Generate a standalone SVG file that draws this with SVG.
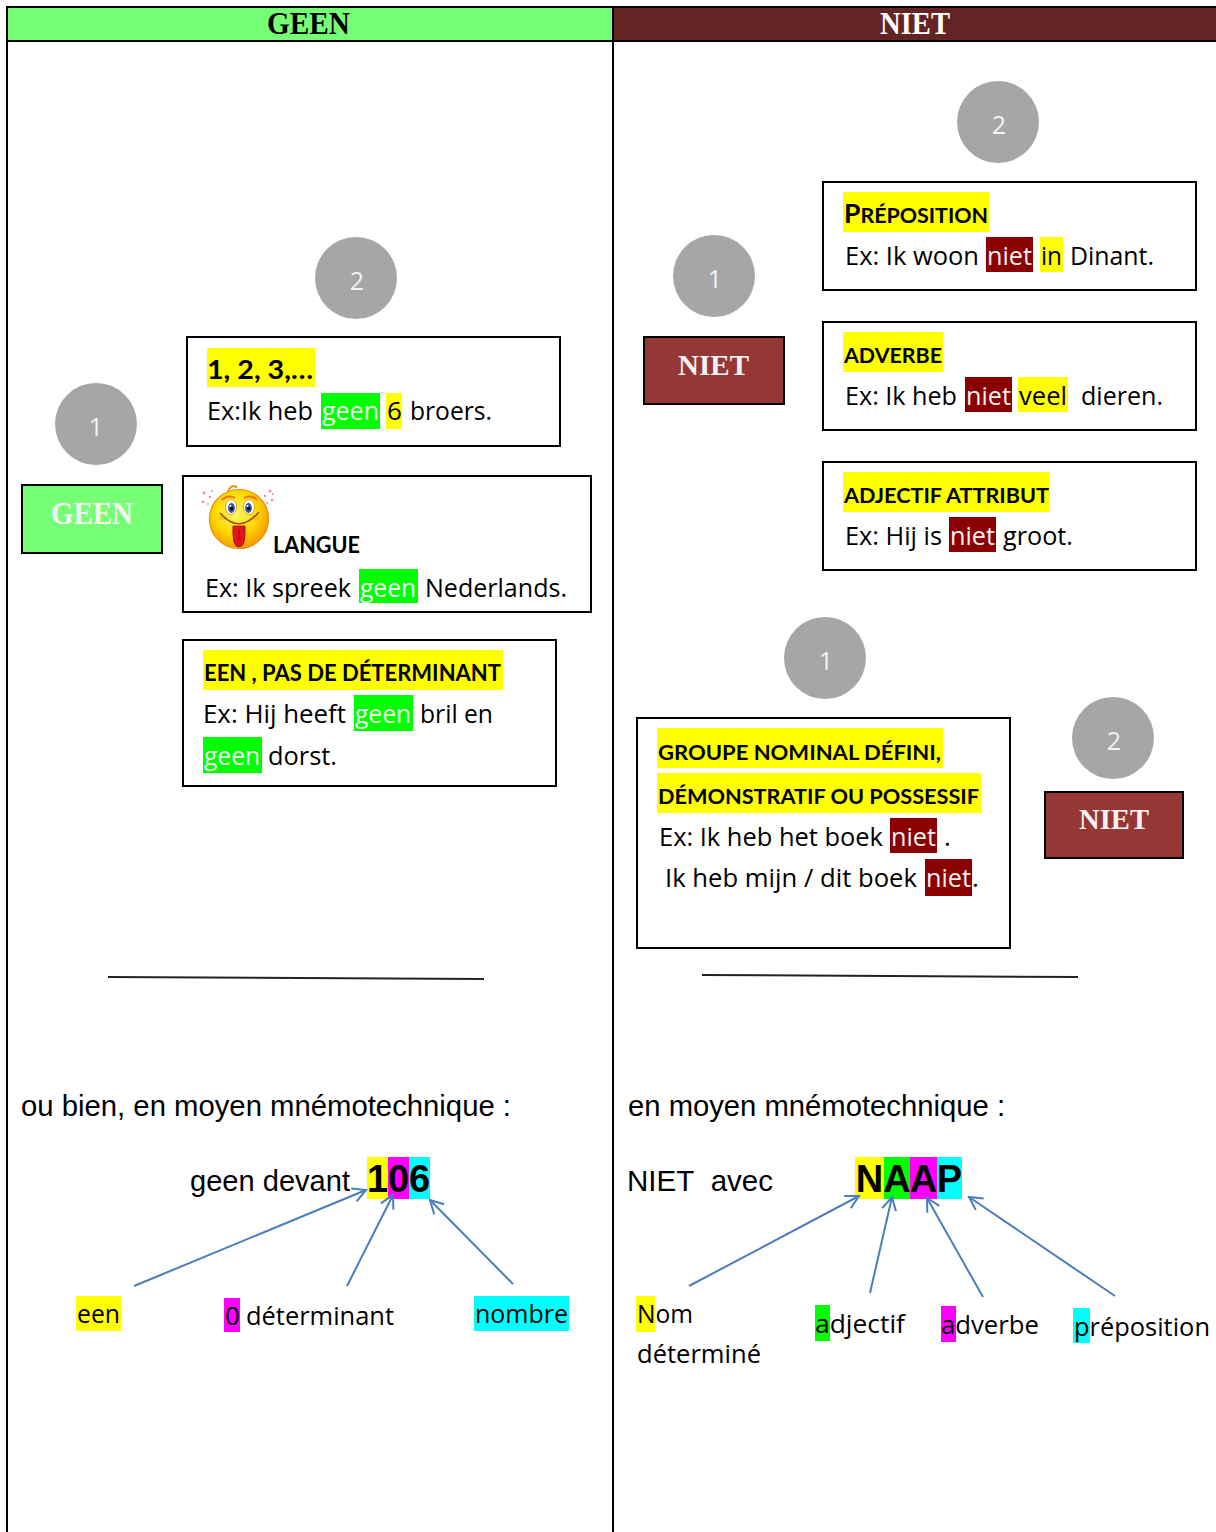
<svg xmlns="http://www.w3.org/2000/svg" width="1216" height="1532" viewBox="0 0 1216 1532">
<defs>
<style>
.b{font-family:"Open Sans","Noto Sans",sans-serif;font-size:26px;fill:#000}
.w{fill:#F2F2F2}
.t{font-family:Lato,"Open Sans",sans-serif;font-weight:700;font-size:21px;fill:#000}
.ar{font-family:"Liberation Sans",Arial,sans-serif;font-size:29px;fill:#000}
.arb{font-family:"Liberation Sans",Arial,sans-serif;font-size:38px;font-weight:700;fill:#000;text-anchor:middle}
.sf{font-family:"Liberation Serif","Times New Roman",serif;font-weight:700}
.box{fill:#fff;stroke:#000;stroke-width:2}
.circ{fill:#A6A6A6}
.num{font-family:"Open Sans","Noto Sans",sans-serif;font-size:25px;fill:#F2F2F2;text-anchor:middle}
.conn{stroke:#4A7EBB;stroke-width:2;fill:none;marker-end:url(#ah)}
.grid{stroke:#000;stroke-width:2;fill:none}
.sep{stroke:#222;stroke-width:2}
.yl{fill:#FFFF00}.gr{fill:#00FF00}.mg{fill:#FF00FF}.cy{fill:#00FFFF}.dr{fill:#8B0000}
</style>
<marker id="ah" markerWidth="16" markerHeight="16" refX="14" refY="8" orient="auto" markerUnits="userSpaceOnUse">
<path d="M1,1 L14,8 L1,15" fill="none" stroke="#4A7EBB" stroke-width="2"/>
</marker>
<radialGradient id="face" cx="0.45" cy="0.4" r="0.6">
<stop offset="0" stop-color="#FFF86A"/>
<stop offset="0.6" stop-color="#FFD800"/>
<stop offset="1" stop-color="#F59A00"/>
</radialGradient>
</defs>

<g id="table">
<rect x="7" y="7" width="606" height="34" fill="#76FF76"/>
<rect x="613" y="7" width="603" height="34" fill="#632423"/>
<line class="grid" x1="6" y1="7" x2="1216" y2="7"/>
<line class="grid" x1="6" y1="41" x2="1216" y2="41"/>
<line class="grid" x1="7" y1="6" x2="7" y2="1532"/>
<line class="grid" x1="613" y1="6" x2="613" y2="1532"/>
<text class="sf" x="267" y="34" font-size="32" textLength="83" lengthAdjust="spacingAndGlyphs" fill="#000">GEEN</text>
<text class="sf" x="880" y="34" font-size="32" textLength="70" lengthAdjust="spacingAndGlyphs" fill="#fff">NIET</text>
</g>

<g id="circle-geen-1"><circle class="circ" cx="96" cy="424" r="41"/><text class="num" x="96" y="436">1</text></g>
<g id="circle-geen-2"><circle class="circ" cx="356" cy="278" r="41"/><text class="num" x="357" y="290">2</text></g>
<g id="circle-niet-2a"><circle class="circ" cx="998" cy="122" r="41"/><text class="num" x="999" y="134">2</text></g>
<g id="circle-niet-1a"><circle class="circ" cx="714" cy="276" r="41"/><text class="num" x="715" y="288">1</text></g>
<g id="circle-niet-1b"><circle class="circ" cx="825" cy="658" r="41"/><text class="num" x="826" y="670">1</text></g>
<g id="circle-niet-2b"><circle class="circ" cx="1113" cy="738" r="41"/><text class="num" x="1114" y="750">2</text></g>

<g id="geen-label">
<rect x="22" y="485" width="140" height="68" fill="#77FF77" stroke="#000" stroke-width="2"/>
<text class="sf" x="51" y="524" font-size="31" textLength="82" lengthAdjust="spacingAndGlyphs" fill="#F2F2F2">GEEN</text>
</g>

<g id="box-nombres">
<rect class="box" x="187" y="337" width="373" height="109"/>
<rect class="yl" x="207" y="348" width="108" height="39"/>
<text class="t" x="207" y="379" style="font-size:27px" textLength="106" lengthAdjust="spacingAndGlyphs">1, 2, 3,…</text>
<text class="b" x="207" y="420" textLength="106" lengthAdjust="spacingAndGlyphs">Ex:Ik heb</text>
<rect class="gr" x="321" y="393" width="59" height="36"/>
<text class="b w" x="322" y="420" textLength="57" lengthAdjust="spacingAndGlyphs">geen</text>
<rect class="yl" x="386" y="393" width="16" height="36"/>
<text class="b" x="387" y="420">6</text>
<text class="b" x="410" y="420" textLength="82" lengthAdjust="spacingAndGlyphs">broers.</text>
</g>

<g id="box-langue">
<rect class="box" x="183" y="476" width="408" height="136"/>
<g id="smiley">
<path d="M228,492 Q230,484 237,487" fill="none" stroke="#F08A00" stroke-width="2"/>
<circle cx="239" cy="519" r="29.5" fill="url(#face)" stroke="#EE8C00" stroke-width="1.2"/>
<path d="M222,500 Q228,494 235,498" fill="none" stroke="#E07A00" stroke-width="2"/>
<path d="M244,498 Q251,494 257,500" fill="none" stroke="#E07A00" stroke-width="2"/>
<ellipse cx="231" cy="507" rx="5.5" ry="7.5" fill="#fff" stroke="#E08A00" stroke-width="0.8"/>
<ellipse cx="249" cy="507" rx="5.5" ry="7.5" fill="#fff" stroke="#E08A00" stroke-width="0.8"/>
<ellipse cx="231.5" cy="508" rx="3.4" ry="5" fill="#2E5EA8"/>
<ellipse cx="248.5" cy="508" rx="3.4" ry="5" fill="#2E5EA8"/>
<circle cx="231.5" cy="508.5" r="1.8" fill="#000"/>
<circle cx="248.5" cy="508.5" r="1.8" fill="#000"/>
<circle cx="230.5" cy="506" r="0.9" fill="#fff"/>
<circle cx="247.5" cy="506" r="0.9" fill="#fff"/>
<ellipse cx="223" cy="518" rx="4" ry="2.5" fill="#F6A23A" opacity="0.5"/>
<ellipse cx="256" cy="518" rx="4" ry="2.5" fill="#F6A23A" opacity="0.5"/>
<path d="M220,513 Q239,535 259,512" fill="none" stroke="#9A5200" stroke-width="1.6"/>
<path d="M233,526 Q232,547 239,547 Q246,547 245,526 Z" fill="#E3141E" stroke="#A30000" stroke-width="0.8"/>
<line x1="239" y1="530" x2="239" y2="540" stroke="#A30000" stroke-width="0.8"/>
<g fill="#F08CB4">
<circle cx="204" cy="493" r="1.5"/><circle cx="210" cy="497" r="1.3"/><circle cx="203" cy="502" r="1.3"/><circle cx="212" cy="491" r="1"/><circle cx="208" cy="504" r="1"/>
<circle cx="270" cy="491" r="1.5"/><circle cx="265" cy="496" r="1.3"/><circle cx="272" cy="500" r="1.3"/><circle cx="267" cy="503" r="1"/><circle cx="273" cy="494" r="1"/>
</g>
</g>
<text class="t" x="273" y="553" style="font-size:22px" textLength="87" lengthAdjust="spacingAndGlyphs">LANGUE</text>
<text class="b" x="205" y="597" textLength="146" lengthAdjust="spacingAndGlyphs">Ex: Ik spreek</text>
<rect class="gr" x="359" y="569" width="59" height="34"/>
<text class="b w" x="360" y="597" textLength="56" lengthAdjust="spacingAndGlyphs">geen</text>
<text class="b" x="425" y="597" textLength="142" lengthAdjust="spacingAndGlyphs">Nederlands.</text>
</g>

<g id="box-een">
<rect class="box" x="183" y="640" width="373" height="146"/>
<rect class="yl" x="203" y="650" width="300" height="40"/>
<text class="t" x="204" y="681" style="font-size:22px" textLength="297" lengthAdjust="spacingAndGlyphs">EEN , PAS DE DÉTERMINANT</text>
<text class="b" x="203" y="723" textLength="143" lengthAdjust="spacingAndGlyphs">Ex: Hij heeft</text>
<rect class="gr" x="354" y="695" width="59" height="36"/>
<text class="b w" x="355" y="723" textLength="56" lengthAdjust="spacingAndGlyphs">geen</text>
<text class="b" x="420" y="723" textLength="73" lengthAdjust="spacingAndGlyphs">bril en</text>
<rect class="gr" x="203" y="737" width="59" height="36"/>
<text class="b w" x="204" y="765" textLength="56" lengthAdjust="spacingAndGlyphs">geen</text>
<text class="b" x="268" y="765" textLength="69" lengthAdjust="spacingAndGlyphs">dorst.</text>
</g>

<g id="niet-label-1">
<rect x="644" y="337" width="140" height="67" fill="#953735" stroke="#000" stroke-width="2"/>
<text class="sf" x="678" y="375" font-size="29" textLength="71" lengthAdjust="spacingAndGlyphs" fill="#F2F2F2">NIET</text>
</g>

<g id="box-preposition">
<rect class="box" x="823" y="182" width="373" height="108"/>
<rect class="yl" x="843" y="192" width="146" height="40"/>
<text class="t" x="844" y="223" textLength="144" lengthAdjust="spacingAndGlyphs"><tspan style="font-size:26px">P</tspan><tspan style="font-size:21px">RÉPOSITION</tspan></text>
<text class="b" x="845" y="265" textLength="134" lengthAdjust="spacingAndGlyphs">Ex: Ik woon</text>
<rect class="dr" x="986" y="237" width="47" height="35"/>
<text class="b w" x="987" y="265" textLength="45" lengthAdjust="spacingAndGlyphs">niet</text>
<rect class="yl" x="1040" y="237" width="23" height="35"/>
<text class="b" x="1041" y="265" textLength="21" lengthAdjust="spacingAndGlyphs">in</text>
<text class="b" x="1070" y="265" textLength="84" lengthAdjust="spacingAndGlyphs">Dinant.</text>
</g>

<g id="box-adverbe">
<rect class="box" x="823" y="322" width="373" height="108"/>
<rect class="yl" x="843" y="332" width="100" height="40"/>
<text class="t" x="844" y="363" textLength="98" lengthAdjust="spacingAndGlyphs">ADVERBE</text>
<text class="b" x="845" y="405" textLength="112" lengthAdjust="spacingAndGlyphs">Ex: Ik heb</text>
<rect class="dr" x="965" y="377" width="47" height="35"/>
<text class="b w" x="966" y="405" textLength="45" lengthAdjust="spacingAndGlyphs">niet</text>
<rect class="yl" x="1018" y="377" width="50" height="35"/>
<text class="b" x="1019" y="405" textLength="48" lengthAdjust="spacingAndGlyphs">veel</text>
<text class="b" x="1081" y="405" textLength="82" lengthAdjust="spacingAndGlyphs">dieren.</text>
</g>

<g id="box-adjectif">
<rect class="box" x="823" y="462" width="373" height="108"/>
<rect class="yl" x="843" y="472" width="207" height="40"/>
<text class="t" x="844" y="503" textLength="205" lengthAdjust="spacingAndGlyphs">ADJECTIF ATTRIBUT</text>
<text class="b" x="845" y="545" textLength="97" lengthAdjust="spacingAndGlyphs">Ex: Hij is</text>
<rect class="dr" x="949" y="517" width="47" height="35"/>
<text class="b w" x="950" y="545" textLength="45" lengthAdjust="spacingAndGlyphs">niet</text>
<text class="b" x="1003" y="545" textLength="70" lengthAdjust="spacingAndGlyphs">groot.</text>
</g>

<g id="box-groupe">
<rect class="box" x="637" y="718" width="373" height="230"/>
<rect class="yl" x="657" y="728" width="286" height="40"/>
<text class="t" x="658" y="760" textLength="283" lengthAdjust="spacingAndGlyphs">GROUPE NOMINAL DÉFINI,</text>
<rect class="yl" x="657" y="773" width="324" height="40"/>
<text class="t" x="658" y="804" textLength="321" lengthAdjust="spacingAndGlyphs">DÉMONSTRATIF OU POSSESSIF</text>
<text class="b" x="659" y="846" textLength="224" lengthAdjust="spacingAndGlyphs">Ex: Ik heb het boek</text>
<rect class="dr" x="890" y="818" width="47" height="35"/>
<text class="b w" x="891" y="846" textLength="45" lengthAdjust="spacingAndGlyphs">niet</text>
<text class="b" x="944" y="846">.</text>
<text class="b" x="665" y="887" textLength="252" lengthAdjust="spacingAndGlyphs">Ik heb mijn / dit boek</text>
<rect class="dr" x="925" y="859" width="47" height="37"/>
<text class="b w" x="926" y="887" textLength="45" lengthAdjust="spacingAndGlyphs">niet</text>
<text class="b" x="972" y="887">.</text>
</g>

<g id="niet-label-2">
<rect x="1045" y="792" width="138" height="66" fill="#953735" stroke="#000" stroke-width="2"/>
<text class="sf" x="1079" y="829" font-size="29" textLength="70" lengthAdjust="spacingAndGlyphs" fill="#F2F2F2">NIET</text>
</g>

<g id="separators">
<line class="sep" x1="108" y1="977" x2="484" y2="979"/>
<line class="sep" x1="702" y1="975" x2="1078" y2="977"/>
</g>

<g id="mnemo-geen">
<text class="ar" x="21" y="1116" textLength="490" lengthAdjust="spacingAndGlyphs">ou bien, en moyen mnémotechnique :</text>
<text class="ar" x="190" y="1191" textLength="160" lengthAdjust="spacingAndGlyphs">geen devant</text>
<rect class="yl" x="367" y="1157" width="21" height="42"/>
<rect class="mg" x="388" y="1157" width="21" height="42"/>
<rect class="cy" x="409" y="1157" width="21" height="42"/>
<text class="arb" x="377.5" y="1192">1</text>
<text class="arb" x="398.5" y="1192">0</text>
<text class="arb" x="419.5" y="1192">6</text>
</g>
<g id="lbl-een"><rect class="yl" x="76" y="1296" width="45" height="35"/><text class="b" x="77" y="1323" textLength="43" lengthAdjust="spacingAndGlyphs">een</text></g>
<g id="lbl-determinant"><rect class="mg" x="224" y="1298" width="16" height="34"/><text class="b" x="225" y="1325">0</text><text class="b" x="246" y="1325" textLength="148" lengthAdjust="spacingAndGlyphs">déterminant</text></g>
<g id="lbl-nombre"><rect class="cy" x="474" y="1296" width="95" height="35"/><text class="b" x="475" y="1323" textLength="93" lengthAdjust="spacingAndGlyphs">nombre</text></g>

<g id="mnemo-niet">
<text class="ar" x="628" y="1116" textLength="377" lengthAdjust="spacingAndGlyphs">en moyen mnémotechnique :</text>
<text class="ar" x="627" y="1191" textLength="146" lengthAdjust="spacingAndGlyphs">NIET&#160; avec</text>
<rect class="yl" x="855" y="1157" width="29" height="42"/>
<rect class="gr" x="884" y="1157" width="26" height="42"/>
<rect class="mg" x="910" y="1157" width="27" height="42"/>
<rect class="cy" x="937" y="1157" width="25" height="42"/>
<text class="arb" x="869.5" y="1192">N</text>
<text class="arb" x="897" y="1192">A</text>
<text class="arb" x="923.5" y="1192">A</text>
<text class="arb" x="949.5" y="1192">P</text>
</g>
<g id="lbl-nom"><rect class="yl" x="636" y="1296" width="19" height="36"/><text class="b" x="637" y="1323" textLength="56" lengthAdjust="spacingAndGlyphs">Nom</text><text class="b" x="637" y="1363" textLength="124" lengthAdjust="spacingAndGlyphs">déterminé</text></g>
<g id="lbl-adjectif"><rect class="gr" x="815" y="1305" width="15" height="36"/><text class="b" x="815" y="1333" textLength="90" lengthAdjust="spacingAndGlyphs">adjectif</text></g>
<g id="lbl-adverbe"><rect class="mg" x="941" y="1306" width="15" height="36"/><text class="b" x="941" y="1334" textLength="98" lengthAdjust="spacingAndGlyphs">adverbe</text></g>
<g id="lbl-preposition"><rect class="cy" x="1073" y="1308" width="17" height="35"/><text class="b" x="1074" y="1336" textLength="136" lengthAdjust="spacingAndGlyphs">préposition</text></g>

<g id="connectors">
<path class="conn" d="M134,1286 L366,1190"/>
<path class="conn" d="M347,1286 L393,1195"/>
<path class="conn" d="M513,1284 L430,1200"/>
<path class="conn" d="M689,1286 L859,1196"/>
<path class="conn" d="M870,1293 L892,1197"/>
<path class="conn" d="M983,1297 L927,1198"/>
<path class="conn" d="M1115,1296 L969,1197"/>
</g>
</svg>
